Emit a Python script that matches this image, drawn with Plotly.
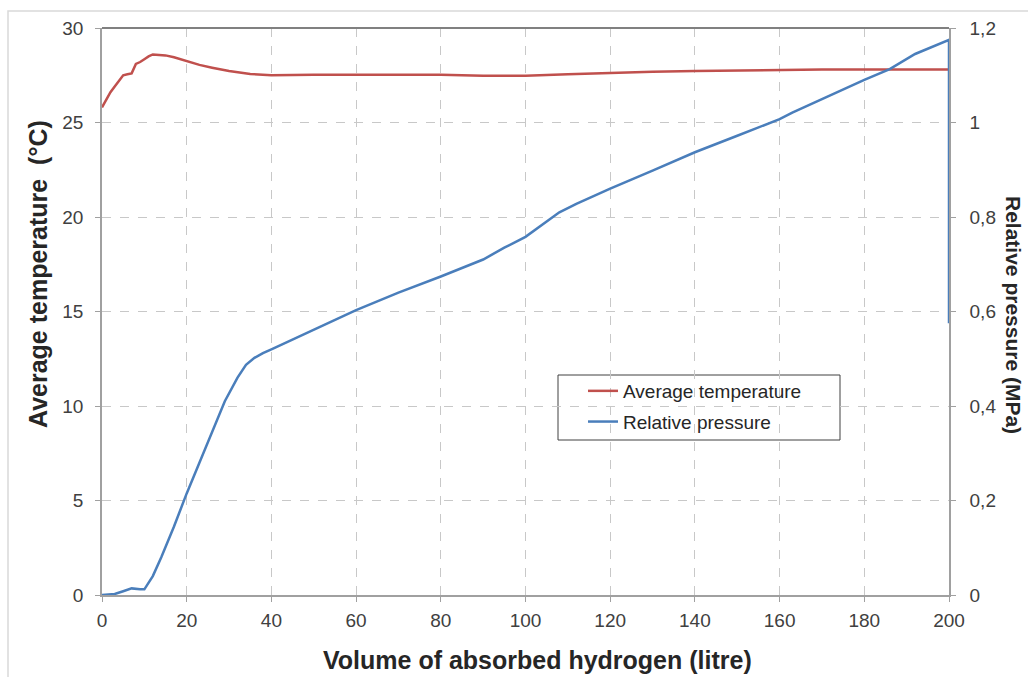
import plotly.graph_objects as go

# ---- data ----
temp_x = [0, 1, 2, 3, 4, 5, 6, 7, 8, 9, 10, 11, 12, 13, 15, 17, 20, 23, 26, 30, 35, 40,
          50, 60, 70, 80, 90, 100, 110, 120, 130, 140, 150, 160, 170, 180, 190, 200]
temp_y = [25.8, 26.2, 26.6, 26.9, 27.2, 27.5, 27.55, 27.6, 28.1, 28.2, 28.35, 28.5, 28.6, 28.58,
          28.55, 28.45, 28.25, 28.05, 27.9, 27.72, 27.57, 27.5,
          27.52, 27.53, 27.52, 27.52, 27.48, 27.48, 27.55, 27.62, 27.68, 27.72, 27.76, 27.78,
          27.8, 27.8, 27.8, 27.8]

pres_x = [0, 3, 5, 7, 9, 10, 12, 14, 17, 20, 23, 26, 29, 32, 34, 36, 38, 40, 50, 60, 70, 80,
          90, 95, 100, 105, 108, 112, 120, 130, 140, 150, 160, 163, 170, 180, 186, 192, 200, 200]
pres_y = [0, 0.002, 0.008, 0.014, 0.012, 0.012, 0.04, 0.08, 0.145, 0.215, 0.28, 0.345, 0.41,
          0.46, 0.487, 0.502, 0.512, 0.52, 0.562, 0.603, 0.64, 0.674, 0.71, 0.735, 0.758, 0.79,
          0.81, 0.828, 0.86, 0.898, 0.937, 0.972, 1.007, 1.021, 1.05, 1.09, 1.113, 1.145, 1.175,
          0.575]

x_ticks = [0, 20, 40, 60, 80, 100, 120, 140, 160, 180, 200]
y_ticks = [0, 5, 10, 15, 20, 25, 30]
y2_ticks = [0, 0.2, 0.4, 0.6, 0.8, 1.0, 1.2]
y2_ticktext = ["0", "0,2", "0,4", "0,6", "0,8", "1", "1,2"]

RED = "#C0504D"
BLUE = "#4A7EBB"
FONT = "Arial, 'Liberation Sans', sans-serif"

W, H = 1028, 677
L, R, T, B = 102, 949, 28, 595


def px(x):
    return (x - L) / (R - L)


def py(y):
    return (B - y) / (B - T)


fig = go.Figure()
fig.add_trace(go.Scatter(x=temp_x, y=temp_y, mode="lines", name="Average temperature",
                         legendgroup="a", line=dict(color=RED, width=2.5), yaxis="y"))
fig.add_trace(go.Scatter(x=pres_x, y=pres_y, mode="lines", name="Relative pressure",
                         legendgroup="b", line=dict(color=BLUE, width=2.5), yaxis="y2"))

tickfont = dict(family=FONT, size=19, color="#404040")

fig.update_layout(
    width=W, height=H,
    margin=dict(l=L, r=W - R, t=T, b=H - B),
    paper_bgcolor="white", plot_bgcolor="white",
    font=dict(family=FONT),
    showlegend=True,
    legend=dict(x=px(583), y=py(372), xanchor="left", yanchor="top",
                bgcolor="rgba(0,0,0,0)", borderwidth=0,
                font=dict(family=FONT, size=19, color="#262626"),
                tracegroupgap=3),
    xaxis=dict(range=[0, 200], tickvals=x_ticks, showgrid=True, gridcolor="#c8c8c8",
               griddash="dash", gridwidth=1, zeroline=False, showline=True,
               linecolor="#a0a0a0", linewidth=1.5, ticks="outside", ticklen=5,
               tickcolor="#a0a0a0", tickfont=tickfont, ticklabelstandoff=2),
    yaxis=dict(range=[0, 30], tickvals=y_ticks, showgrid=True, gridcolor="#c8c8c8",
               griddash="dash", gridwidth=1, zeroline=False, showline=True,
               linecolor="#a0a0a0", linewidth=1.5, ticks="outside", ticklen=5,
               tickcolor="#a0a0a0", tickfont=tickfont, ticklabelstandoff=8),
    yaxis2=dict(range=[0, 1.2], tickvals=y2_ticks, ticktext=y2_ticktext, overlaying="y",
                side="right", showgrid=False, zeroline=False, showline=True,
                linecolor="#a0a0a0", linewidth=1.5, ticks="outside", ticklen=5,
                tickcolor="#a0a0a0", tickfont=tickfont, ticklabelstandoff=10),
    shapes=[
        # outer frame
        dict(type="rect", xref="paper", yref="paper", x0=px(8), x1=px(1040), y0=py(690), y1=py(11),
             line=dict(color="#d9d9d9", width=1.5), layer="below"),
        # top border of plot area
        dict(type="line", xref="paper", yref="paper", x0=0, x1=1, y0=1, y1=1,
             line=dict(color="#808080", width=2)),
        # legend box
        dict(type="rect", xref="paper", yref="paper", x0=px(558), x1=px(840), y0=py(440), y1=py(375),
             line=dict(color="#404040", width=1), fillcolor="white", layer="below"),
    ],
    annotations=[
        dict(text="<b>Volume of absorbed hydrogen (litre)</b>", xref="paper", yref="paper",
             x=px(537), y=py(660), xanchor="center", yanchor="middle", showarrow=False,
             font=dict(family=FONT, size=25, color="#262626")),
        dict(text="<b>Average temperature  (°C)</b>", xref="paper", yref="paper",
             x=px(38), y=py(274), xanchor="center", yanchor="middle", showarrow=False,
             textangle=-90, font=dict(family=FONT, size=25, color="#262626")),
        dict(text="<b>Relative pressure (MPa)</b>", xref="paper", yref="paper",
             x=px(1014), y=py(315), xanchor="center", yanchor="middle", showarrow=False,
             textangle=90, font=dict(family=FONT, size=21, color="#262626")),
    ],
)

fig.write_html("out.html")
